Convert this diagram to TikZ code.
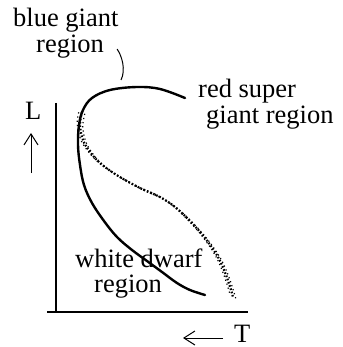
\documentclass[tikz,border=0pt]{standalone}
\usepackage{fontspec}
\setmainfont{Liberation Serif}
\usetikzlibrary{arrows.meta}

\newcommand{\starband}{plot[smooth,tension=0.6] coordinates {(82,112) (80,125) (83,140) (90,152)
    (100,163) (112,172) (125,180) (142,189) (160,197) (175,207) (190,221)
    (205,238) (218,257) (226,275) (231,290) (233,297)}}

\begin{document}
\begin{tikzpicture}[x=1pt,y=-1pt,
    lbl/.style={font=\fontsize{26.5}{26}\selectfont,inner sep=0pt,anchor=base west},
    axis/.style={line width=2.8pt},
    track/.style={line width=2.4pt,line cap=round},
    dir/.style={line width=1pt,-{Straight Barb[length=11pt,width=14pt]}},
    dense/.style={line width=2.2pt,dash pattern=on 1.6pt off 1.8pt},
    sparse/.style={line width=1.2pt,dash pattern=on 1.2pt off 3pt}]
  \useasboundingbox (0,0) rectangle (342,347);
  % axes
  \draw[axis] (56,103) -- (56,312);
  \draw[axis] (47,312) -- (248,312);
  % axis labels
  \node[lbl] (lumi) at (25,120) {L};
  \node[lbl] (temp) at (234,342) {T};
  \coordinate (upTail) at (31,173);
  \coordinate (upHead) at (31,133);
  \draw[dir] (upTail) -- (upHead);
  \coordinate (leftTail) at (223,338);
  \coordinate (leftHead) at (183,338);
  \draw[dir] (leftTail) -- (leftHead);
  % region boundary
  \draw[track] plot[smooth,tension=0.6] coordinates {(185,98) (160,89) (137,87) (110,90) (92,98)
    (83,110) (79,125) (78,145) (80,165) (84,185) (92,203) (104,221) (117,237)
    (132,250) (147,261) (162,272) (177,283) (190,290) (205,295)};
  % stars (band of dots)
  \draw[dense] \starband;
  \draw[sparse,xshift=2.8pt,yshift=-1.8pt] \starband;
  \draw[sparse,xshift=-2.8pt,yshift=1.8pt,dash phase=2pt] \starband;
  % region labels
  \node[lbl] (bgA) at (13,27) {blue giant};
  \node[lbl] (bgB) at (36,53) {region};
  \node[lbl] (rsA) at (198,98) {red super};
  \node[lbl] (rsB) at (206,124) {giant region};
  \node[lbl] (wdA) at (75,267) {white dwarf};
  \node[lbl] (wdB) at (94,292) {region};
  % pointer to the blue giant corner
  \coordinate (bgTip) at (121,80);
  \draw[line width=1pt] ([xshift=13pt,yshift=-2pt]bgB.east) .. controls (122,56) and (126,70) .. (bgTip);
\end{tikzpicture}
\end{document}
